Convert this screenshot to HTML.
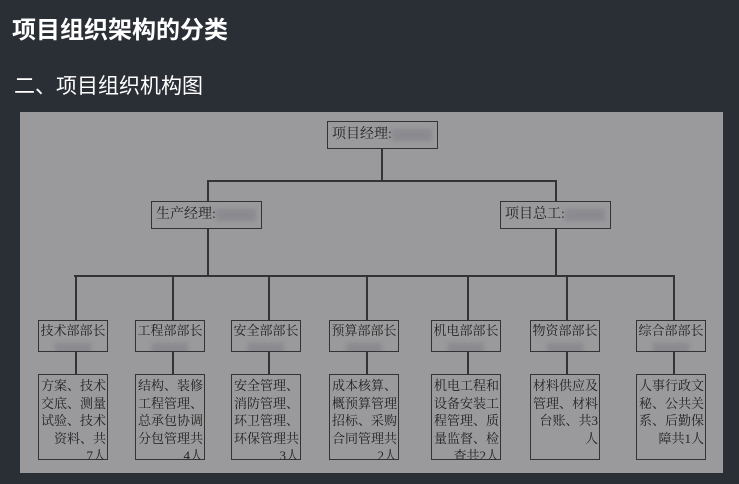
<!DOCTYPE html><html><head><meta charset="utf-8"><style>
html,body{margin:0;width:739px;height:484px;overflow:hidden}
body{background:#2a2e35;position:relative;font-family:"Liberation Sans","Noto Sans CJK SC",sans-serif}
.t{position:absolute;color:#fff;white-space:nowrap}
.p{position:absolute;left:20px;top:112px;width:703px;height:361px;background:#9a9a9c}
.b{position:absolute;border:1.5px solid #333;box-sizing:border-box;font-family:"Liberation Serif","Noto Serif CJK SC",serif;color:#222;font-size:14px;line-height:17px;white-space:nowrap;overflow:hidden}
.l{position:absolute;background:#333}
.bl{display:inline-block;width:40px;height:12px;background:#8a8a90;filter:blur(2px);vertical-align:middle}
.d{text-align:center;padding-top:1px;font-size:13px}
.x{padding:2px 1px 0 0;text-align:right;font-size:13px;line-height:17.5px}
</style></head><body>
<div class="t" style="left:12px;top:10px;font-size:24px;font-weight:bold">项目组织架构的分类</div>
<div class="t" style="left:14px;top:70px;font-size:21px">二、项目组织机构图</div>
<div class="p"></div>
<div class="b" style="left:327px;top:121px;width:111px;height:28px;padding:4px">项目经理:<span class="bl"></span></div>
<div class="l" style="left:381px;top:149px;width:1.5px;height:31px"></div>
<div class="l" style="left:207px;top:180px;width:349px;height:1.5px"></div>
<div class="l" style="left:207px;top:180px;width:1.5px;height:95px"></div>
<div class="l" style="left:555px;top:180px;width:1.5px;height:95px"></div>
<div class="b" style="left:151px;top:201px;width:111px;height:28px;padding:4px;background:#9a9a9c">生产经理:<span class="bl"></span></div>
<div class="b" style="left:500px;top:201px;width:111px;height:28px;padding:4px;background:#9a9a9c">项目总工:<span class="bl"></span></div>
<div class="l" style="left:74px;top:275px;width:600px;height:1.5px"></div>
<div id="c"></div>
<script>
var d=[[38,75,"技术部部长","方案、技术<br>交底、测量<br>试验、技术<br>资料、共<br>7人"],
[135,172,"工程部部长","结构、装修<br>工程管理、<br>总承包协调<br>分包管理共<br>4人"],
[231,268,"安全部部长","安全管理、<br>消防管理、<br>环卫管理、<br>环保管理共<br>3人"],
[329,366,"预算部部长","成本核算、<br>概预算管理<br>招标、采购<br>合同管理共<br>2人"],
[431,467,"机电部部长","机电工程和<br>设备安装工<br>程管理、质<br>量监督、检<br>查共2人"],
[530,566,"物资部部长","材料供应及<br>管理、材料<br>台账、共3<br>人"],
[636,673,"综合部部长","人事行政文<br>秘、公共关<br>系、后勤保<br>障共1人"]];
var h="";d.forEach(function(a){
h+='<div class="l" style="left:'+a[1]+'px;top:275px;width:1.5px;height:99px"></div>';
h+='<div class="b d" style="left:'+a[0]+'px;top:320px;width:70px;height:32px;background:#9a9a9c">'+a[2]+'<br><span class="bl" style="width:36px"></span></div>';
h+='<div class="b x" style="left:'+a[0]+'px;top:374px;width:70px;height:86px;background:#9a9a9c">'+a[3]+'</div>';});
document.getElementById("c").innerHTML=h;
</script>
</body></html>
